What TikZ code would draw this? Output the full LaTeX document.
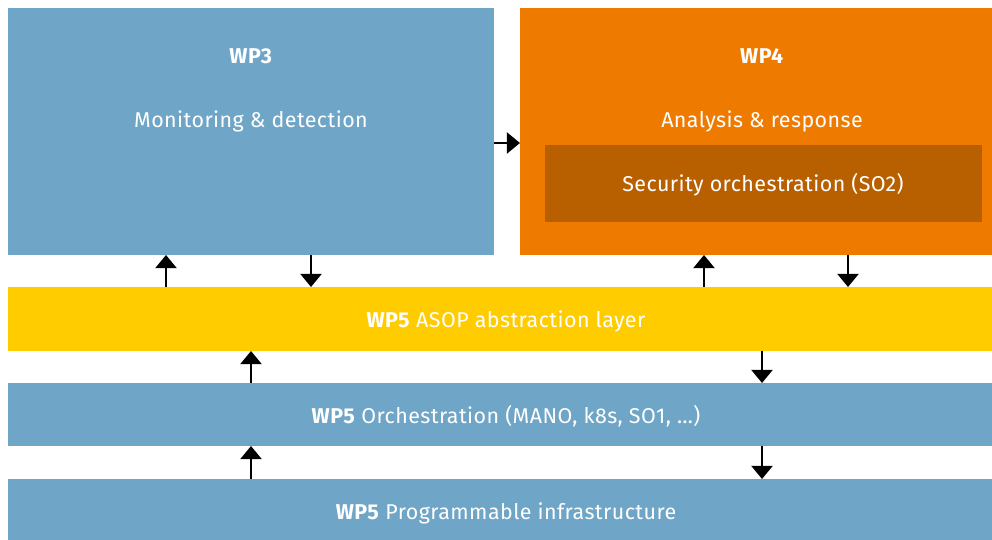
\documentclass[tikz,border=0pt]{standalone}
\usepackage{fontspec}
\setmainfont[LetterSpace=2]{Fira Sans}
\usetikzlibrary{arrows.meta,fit}
\definecolor{wpblue}{RGB}{111,165,198}
\definecolor{wporange}{RGB}{238,123,0}
\definecolor{wpdark}{RGB}{184,96,0}
\definecolor{wpyellow}{RGB}{255,204,0}
\begin{document}
\begin{tikzpicture}[x=0.02cm, y=-0.02cm,
  box/.style={inner sep=0pt, outer sep=0pt},
  lbl/.style={text=white, font=\fontsize{12.2}{14}\selectfont},
  arr/.style={line width=1.4pt, -{Triangle[width=12pt,length=7.5pt]}}]
\useasboundingbox (0,0) rectangle (992,540);
% work packages on top
\node [box, fill=wpblue, fit={(8,8) (494,255)}] (wp3) {};
\node [box, fill=wporange, fit={(520,8) (1004,255)}] (wp4) {};
\node [box, fill=wpdark, fit={(545,145) (982,222)}] (so2) {};
\node [lbl] (wp3t) at (251,56) {\textbf{WP3}};
\node [lbl] (wp3s) at (251,121) {Monitoring \& detection};
\node [lbl] (wp4t) at (762,56) {\textbf{WP4}};
\node [lbl] (wp4s) at (762,121) {Analysis \& response};
\node [lbl] (so2t) at (763,185) {Security orchestration (SO2)};
% WP5 layers
\node [box, fill=wpyellow, fit={(8,287) (1004,351)}] (asop) {};
\node [box, fill=wpblue, fit={(8,383) (1004,446)}] (orch) {};
\node [box, fill=wpblue, fit={(8,479) (1004,552)}] (infra) {};
\node [lbl] (asopt) at (506,321) {\textbf{WP5} ASOP abstraction layer};
\node [lbl] (orcht) at (506,416) {\textbf{WP5} Orchestration (MANO, k8s, SO1, \dots)};
\node [lbl] (infrat) at (506,513) {\textbf{WP5} Programmable infrastructure};
% arrow positions
\coordinate (a1) at (166,0);
\coordinate (a2) at (311,0);
\coordinate (a3) at (704,0);
\coordinate (a4) at (848,0);
\coordinate (a5) at (251,0);
\coordinate (a6) at (762,0);
\coordinate (h) at (0,143);
\draw [arr] (wp3.east |- h) -- (wp4.west |- h);
\draw [arr] (asop.north -| a1) -- (wp3.south -| a1);
\draw [arr] (wp3.south -| a2) -- (asop.north -| a2);
\draw [arr] (asop.north -| a3) -- (wp4.south -| a3);
\draw [arr] (wp4.south -| a4) -- (asop.north -| a4);
\draw [arr] (orch.north -| a5) -- (asop.south -| a5);
\draw [arr] (asop.south -| a6) -- (orch.north -| a6);
\draw [arr] (infra.north -| a5) -- (orch.south -| a5);
\draw [arr] (orch.south -| a6) -- (infra.north -| a6);
\end{tikzpicture}
\end{document}
